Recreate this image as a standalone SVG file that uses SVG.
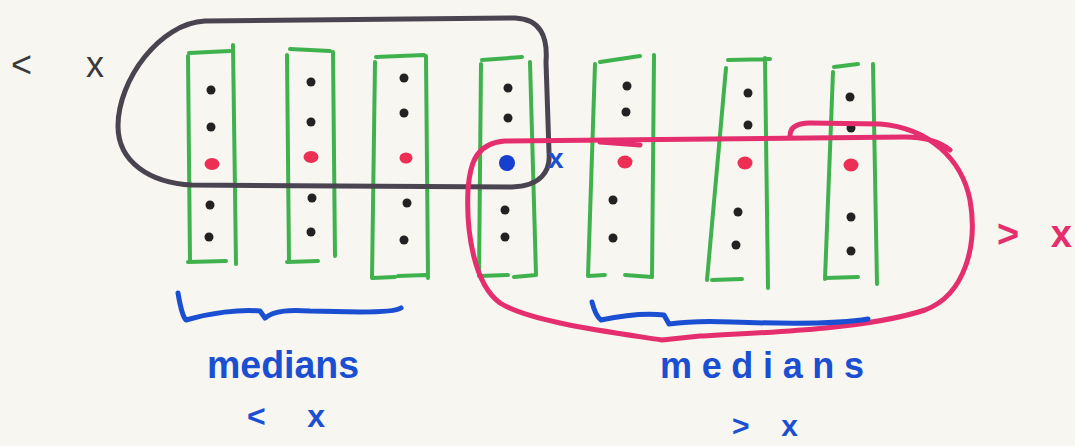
<svg xmlns="http://www.w3.org/2000/svg" width="1075" height="446" viewBox="0 0 1075 446">
<style>
.g{fill:none;stroke:#3fb24e;stroke-width:4;stroke-linecap:round;stroke-linejoin:round}
.d{fill:#222}
.r{fill:#ee2f55}
.bl{fill:#1740d0}
.loopk{fill:none;stroke:#4a4450;stroke-width:5;stroke-linecap:round;stroke-linejoin:round}
.loopp{fill:none;stroke:#e42e6e;stroke-width:5;stroke-linecap:round;stroke-linejoin:round}
.br{fill:none;stroke:#1a4fd2;stroke-width:5;stroke-linecap:round;stroke-linejoin:round}
.tb{font-family:"Liberation Sans",Arial,sans-serif;font-weight:bold;fill:#1a4fd2}
</style>
<rect width="1075" height="446" fill="#f8f6f1"/>
<g id="col1">
<path class="g" d="M188,56 L190,262 M188,262 L226,261 M233,45 L236,264 M189,53 L230,51"/>
<circle class="d" cx="211" cy="90" r="4.5"/><circle class="d" cx="211" cy="127" r="4.5"/>
<ellipse class="r" cx="212" cy="164" rx="7.5" ry="6"/>
<circle class="d" cx="210" cy="205" r="4.5"/><circle class="d" cx="209" cy="237" r="4.5"/>
</g>
<g id="col2">
<path class="g" d="M287,55 L289,262 M287,262 L318,261 M333,52 L335,256 M290,49 L330,51"/>
<circle class="d" cx="311" cy="82" r="4.5"/><circle class="d" cx="311" cy="122" r="4.5"/>
<ellipse class="r" cx="311" cy="157" rx="7.5" ry="6"/>
<circle class="d" cx="312" cy="198" r="4.5"/><circle class="d" cx="311" cy="232" r="4.5"/>
</g>
<g id="col3">
<path class="g" d="M375,62 L372,278 M372,278 L395,277 M398,276 L426,275 M426,56 L428,278 M376,57 L424,55"/>
<circle class="d" cx="404" cy="78" r="4.5"/><circle class="d" cx="404" cy="113" r="4.5"/>
<ellipse class="r" cx="406" cy="158" rx="6.5" ry="5.5"/>
<circle class="d" cx="407" cy="203" r="4.5"/><circle class="d" cx="404" cy="240" r="4.5"/>
</g>
<g id="col4">
<path class="g" d="M481,64 L479,276 M479,276 L508,275 M514,277 L536,275 M530,62 L536,275 M482,60 L522,57"/>
<circle class="d" cx="508" cy="88" r="4.5"/><circle class="d" cx="508" cy="118" r="4.5"/>
<circle class="bl" cx="507" cy="163" r="8"/>
<circle class="d" cx="505" cy="210" r="4.5"/><circle class="d" cx="505" cy="237" r="4.5"/>
</g>
<g id="col5">
<path class="g" d="M595,64 L588,276 M588,276 L605,275 M625,275 L652,277 M654,55 L652,277 M600,62 L640,56"/>
<circle class="d" cx="627" cy="86" r="4.5"/><circle class="d" cx="626" cy="112" r="4.5"/>
<ellipse class="r" cx="625" cy="162" rx="7.5" ry="6.5"/>
<circle class="d" cx="613" cy="200" r="4.5"/><circle class="d" cx="613" cy="238" r="4.5"/>
</g>
<g id="col6">
<path class="g" d="M726,68 L707,280 M712,280 L742,279 M765,58 L768,288 M728,60 L770,59"/>
<circle class="d" cx="748" cy="93" r="4.5"/><circle class="d" cx="748" cy="125" r="4.5"/>
<ellipse class="r" cx="745" cy="163" rx="7.5" ry="6.5"/>
<circle class="d" cx="738" cy="212" r="4.5"/><circle class="d" cx="736" cy="245" r="4.5"/>
</g>
<g id="col7">
<path class="g" d="M833,72 L825,279 M825,278 L858,277 M873,64 L877,284 M834,67 L858,64"/>
<circle class="d" cx="850" cy="97" r="4.5"/><circle class="d" cx="851" cy="128" r="4.5"/>
<ellipse class="r" cx="851" cy="165" rx="7.5" ry="6.5"/>
<circle class="d" cx="851" cy="217" r="4.5"/><circle class="d" cx="851" cy="251" r="4.5"/>
</g>
<g id="loop-less">
<path class="loopk" d="M546,62 C548,36 540,19 515,18 L205,21 C160,23 118,80 118,126 C118,162 150,183 192,185 L512,187 C540,186 551,172 549,152 L546,62"/>
</g>
<g id="loop-greater">
<path class="loopp" d="M790,136 C790,127 797,123 810,123 L880,124 C930,128 962,160 970,200 C978,245 965,295 925,310 C870,328 780,332 700,336 L662,340 C610,332 530,322 500,303 C474,284 466,232 468,190 C470,160 478,143 505,141 L905,137 C925,137 940,142 950,150"/>
<path class="loopp" d="M600,142 L640,145" stroke-width="3"/>
</g>
<g id="brace-left">
<path class="br" d="M178,293 C180,305 182,316 186,320 C210,313 240,309 260,311 L265,318 C275,310 290,310 310,311 L360,312 C385,312 398,310 401,308"/>
</g>
<g id="brace-right">
<path class="br" d="M592,302 C594,310 597,317 601,320 C620,316 645,313 664,315 L669,324 C690,321 710,321 732,322 C790,324 840,324 868,319"/>
</g>
<g id="labels">
<text x="11" y="77" font-family="Liberation Sans,Arial,sans-serif" font-size="36" fill="#3a3a3a" textLength="93" lengthAdjust="spacing">&lt; x</text>
<text x="997" y="247" font-family="Liberation Sans,Arial,sans-serif" font-weight="bold" font-size="38" fill="#e42e6e" textLength="75" lengthAdjust="spacing">&gt; x</text>
<text class="tb" x="548" y="168" font-size="28">x</text>
<text class="tb" x="207" y="378" font-size="38" textLength="152" lengthAdjust="spacingAndGlyphs">medians</text>
<text class="tb" x="247" y="427" font-size="32" textLength="78" lengthAdjust="spacing">&lt; x</text>
<text class="tb" x="660" y="378" font-size="36" textLength="204" lengthAdjust="spacing">medians</text>
<text class="tb" x="732" y="436" font-size="30" textLength="66" lengthAdjust="spacing">&gt; x</text>
</g>
</svg>
